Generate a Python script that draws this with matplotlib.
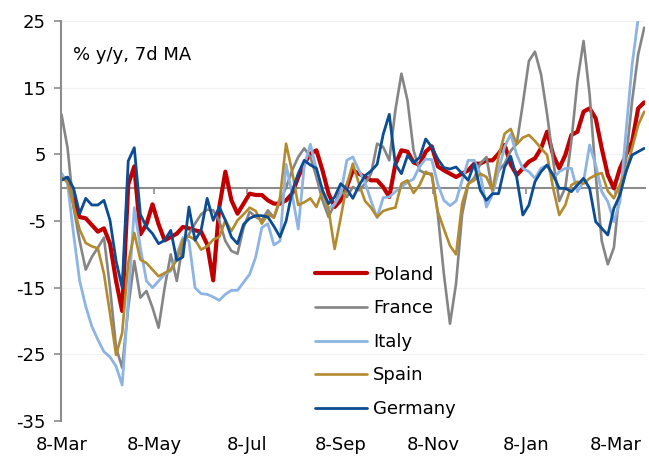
import matplotlib
matplotlib.use("Agg")
import matplotlib.pyplot as plt
import matplotlib.dates as mdates
import pandas as pd

# 7-day moving average, % y/y, sampled every 4 days from 8 Mar 2020
start = "2020-03-08"
step_days = 4

poland = [
    1.4, 1.4, -1.9, -4.4, -4.6, -5.6, -6.6, -6.1, -8.4, -14.0,
    -18.5, 0.5, 3.2, -7.0, -5.5, -2.5, -5.5, -7.9, -7.4, -6.9,
    -5.9, -6.1, -6.4, -6.6, -8.5, -13.9, -2.9, 2.4, -1.9, -3.9,
    -2.4, -0.9, -1.1, -1.1, -1.9, -2.4, -2.4, -1.9, -0.9, 1.6,
    3.6, 5.1, 5.6, 2.6, -0.9, -2.9, -1.9, 0.1, 2.6, 2.1,
    1.6, 1.1, 1.1, 0.1, -1.4, 3.5, 5.6, 5.4, 3.8, 3.4,
    5.4, 6.2, 3.2, 2.6, 2.1, 1.6, 2.1, 2.6, 3.6, 3.6,
    4.1, 4.1, 5.1, 6.4, 3.5, 1.9, 2.9, 3.9, 4.4, 5.9,
    8.4, 4.9, 2.9, 4.9, 7.9, 8.4, 11.4, 11.9, 10.4, 5.9,
    1.9, -0.1, 2.9, 4.9, 6.9, 11.9, 12.8,
]
france = [
    11.0, 6.0, -3.0, -8.0, -12.3, -10.4, -9.0, -7.5, -15.0, -24.0,
    -27.0, -18.0, -11.0, -16.5, -15.5, -18.0, -21.0, -15.0, -10.0, -14.0,
    -8.4, -7.0, -5.4, -4.0, -3.3, -3.4, -5.0, -8.0, -9.5, -9.9,
    -6.0, -3.6, -4.4, -4.9, -3.4, -4.5, -2.0, 0.0, 2.6, 4.6,
    5.9, 4.6, 1.6, -1.9, -4.4, -2.4, -0.4, -1.4, 0.1, -0.4,
    0.6, 2.1, 6.6, 6.1, 4.1, 11.6, 17.1, 13.1, 5.6, 2.6,
    2.1, 2.1, -4.0, -13.0, -20.4, -14.4, -4.0, 0.5, 1.5, 3.6,
    4.6, -0.5, 2.5, 3.6, 5.5, 6.6, 12.6, 19.0, 20.4, 17.0,
    11.0, 4.0, -2.0, 0.0, 7.0, 16.0, 22.0, 14.0, 2.0, -8.0,
    -11.5, -9.0, 0.0, 4.1, 13.0, 20.0, 24.0,
]
italy = [
    2.2, 0.6, -7.0, -14.0, -17.8, -20.8, -22.8, -24.6, -25.4, -26.8,
    -29.6, -17.0, -3.0, -9.0, -14.0, -15.0, -14.0, -13.0, -12.5, -10.0,
    -7.5, -8.0, -15.0, -15.9, -16.0, -16.4, -16.9, -16.0, -15.4, -15.4,
    -14.2, -13.0, -10.4, -6.0, -5.4, -8.6, -8.0, 3.5, -1.0, -6.2,
    3.3, 6.5, 2.8, -0.6, -3.1, -2.5, -1.0, 4.1, 4.6, 2.6,
    0.8, -2.0, -4.5, -1.5, -1.4, -0.6, 0.1, 0.8, 1.3, 3.2,
    4.3, 4.2, 0.5, -1.9, -2.7, -2.0, 1.1, 4.1, 4.1, 2.0,
    -2.9, -1.0, 2.6, 6.1, 8.0, 4.9, 2.9, 2.4, 1.4, 2.9,
    3.4, 1.4, 2.4, 2.9, 2.9, -0.6, 0.9, 6.4, 3.4, -0.6,
    -2.1, -5.1, -2.1, 8.4, 18.4, 25.4, 27.0,
]
spain = [
    1.5, 0.9, -2.8, -6.3, -8.3, -8.8, -9.1, -12.9, -18.9, -25.1,
    -21.8, -11.3, -6.8, -10.8, -11.3, -12.3, -13.3, -12.8, -12.3, -10.8,
    -7.8, -7.3, -7.8, -9.3, -8.8, -7.8, -7.4, -4.9, -6.5, -4.9,
    -4.0, -3.0, -3.5, -5.4, -4.0, -4.5, -1.5, 6.6, 2.4, -2.6,
    -2.2, -1.6, -2.9, -0.5, -3.3, -9.2, -4.5, 0.4, 3.6, 0.6,
    -2.0, -3.0, -4.4, -3.5, -3.2, -3.0, 0.6, 1.1, -0.8, 0.4,
    2.4, 1.8, -3.6, -6.2, -8.7, -10.0, -2.4, 0.6, 1.1, 2.1,
    1.6, -0.4, 4.6, 8.1, 8.8, 6.5, 7.5, 7.9, 7.0, 5.9,
    4.9, -0.1, -4.1, -2.6, 0.4, 0.9, 0.6, 1.4, 1.9, 2.2,
    -0.5, -1.6, 0.4, 2.4, 5.9, 9.4, 11.4,
]
germany = [
    1.1, 1.6, -0.1, -3.9, -1.6, -2.6, -2.6, -1.9, -4.9, -11.0,
    -15.0, 4.0, 6.0, -4.0, -5.9, -6.9, -8.4, -7.9, -6.4, -10.9,
    -10.4, -2.9, -7.9, -6.4, -1.6, -4.9, -2.9, -4.9, -7.4, -8.4,
    -5.5, -4.6, -4.2, -4.2, -4.4, -5.8, -7.4, -5.0, -0.6, 2.1,
    4.1, 3.4, 2.9, -0.4, -2.4, -1.4, 0.6, -0.2, -1.6, 0.3,
    1.8, 2.5, 3.5, 8.0, 11.0, 3.5, 2.1, 4.8, 3.8, 4.5,
    7.3, 6.1, 4.3, 3.0, 2.8, 3.1, 2.1, 1.1, 3.6, -0.4,
    -1.9, -0.9, -0.9, 3.1, 4.7, 1.5, -4.1, -2.6, 0.9, 2.4,
    3.4, 1.9, -0.1, -0.1, -0.6, 0.4, 1.4, -0.1, -5.1, -6.1,
    -7.1, -3.1, -1.1, 2.4, 4.9, 5.4, 5.9,
]

tick_dates = ["2020-03-08", "2020-05-08", "2020-07-08", "2020-09-08",
              "2020-11-08", "2021-01-08", "2021-03-08"]
tick_labels = ["8-Mar", "8-May", "8-Jul", "8-Sep", "8-Nov", "8-Jan", "8-Mar"]
y_ticks = [-35, -25, -15, -5, 5, 15, 25]

series = [
    ("Poland", poland, "#C00000", 3.0),
    ("France", france, "#858585", 1.9),
    ("Italy", italy, "#8DB4E2", 2.0),
    ("Spain", spain, "#B38B2E", 1.9),
    ("Germany", germany, "#0B4C92", 2.0),
]

plt.rcParams["font.family"] = ["DejaVu Sans"]
fs = 13

fig = plt.figure(figsize=(6.49, 4.57), dpi=100)
ax = fig.add_axes([61 / 649, 1 - 421 / 457, 584 / 649, 400 / 457])

for name, vals, color, lw in series:
    dates = pd.date_range(start, periods=len(vals), freq=f"{step_days}D")
    ax.plot(dates, vals, color=color, lw=lw, label=name,
            solid_joinstyle="round", solid_capstyle="round")

t0 = pd.Timestamp(start)
ax.set_xlim(t0 - pd.Timedelta(days=0.3), t0 + pd.Timedelta(days=384.5))
ax.set_ylim(-35, 25)
ax.set_yticks(y_ticks)
ax.set_yticklabels([str(v) for v in y_ticks])
ax.set_xticks(mdates.date2num(pd.to_datetime(tick_dates)))
ax.set_xticklabels(tick_labels)

for s in ["top", "right", "bottom"]:
    ax.spines[s].set_visible(False)
ax.spines["left"].set_color("#8C8C8C")
ax.spines["left"].set_linewidth(1.5)
ax.tick_params(axis="y", direction="out", length=5, width=1.2,
               color="#8C8C8C", labelsize=fs, pad=6)
ax.tick_params(axis="x", length=0, labelsize=fs, pad=11)
ax.yaxis.grid(True, color="#F2F2F2", lw=0.9)
ax.set_axisbelow(True)

# zero line with month ticks pointing down
zero_frac = (0 - ax.get_ylim()[0]) / (ax.get_ylim()[1] - ax.get_ylim()[0])
sec = ax.secondary_xaxis(zero_frac)
sec.set_alignment("bottom")
sec.set_xticks(mdates.date2num(pd.to_datetime(tick_dates)))
sec.set_xticklabels([])
sec.spines["bottom"].set_color("#8C8C8C")
sec.spines["bottom"].set_linewidth(1.5)
sec.tick_params(direction="out", length=4, width=1.2, color="#8C8C8C")

ax.text(0.02, 0.915, "% y/y, 7d MA", transform=ax.transAxes,
        fontsize=fs, va="center", ha="left")

leg = ax.legend(loc="upper left", bbox_to_anchor=(0.435, 0.388), frameon=False,
                fontsize=fs, handlelength=2.9, handletextpad=0.3,
                labelspacing=0.86, borderpad=0, borderaxespad=0)

fig.savefig("out.png", dpi=100)
